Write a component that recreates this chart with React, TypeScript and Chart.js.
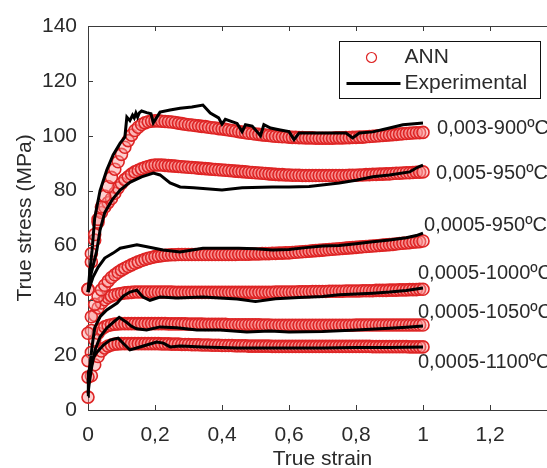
import React, { useEffect, useRef } from 'react';
import { Chart, registerables } from 'chart.js';

Chart.register(...registerables);

const FONT = 'Liberation Sans, Arial, Helvetica, sans-serif';
const TEXT_COLOR = '#2a2a2a';
const AXIS_COLOR = '#3a3a3a';

// ---- ANN predictions (sampled every 0.01 of strain) ----
const STRAIN = [
  0, 0.01, 0.02, 0.03, 0.04, 0.05, 0.06, 0.07, 0.08, 0.09,
  0.1, 0.11, 0.12, 0.13, 0.14, 0.15, 0.16, 0.17, 0.18, 0.19,
  0.2, 0.21, 0.22, 0.23, 0.24, 0.25, 0.26, 0.27, 0.28, 0.29,
  0.3, 0.31, 0.32, 0.33, 0.34, 0.35, 0.36, 0.37, 0.38, 0.39,
  0.4, 0.41, 0.42, 0.43, 0.44, 0.45, 0.46, 0.47, 0.48, 0.49,
  0.5, 0.51, 0.52, 0.53, 0.54, 0.55, 0.56, 0.57, 0.58, 0.59,
  0.6, 0.61, 0.62, 0.63, 0.64, 0.65, 0.66, 0.67, 0.68, 0.69,
  0.7, 0.71, 0.72, 0.73, 0.74, 0.75, 0.76, 0.77, 0.78, 0.79,
  0.8, 0.81, 0.82, 0.83, 0.84, 0.85, 0.86, 0.87, 0.88, 0.89,
  0.9, 0.91, 0.92, 0.93, 0.94, 0.95, 0.96, 0.97, 0.98, 0.99,
  1,
];

const ANN_003_900 = [
  44, 57, 64, 69.5, 74, 78, 81.5, 84.8, 87.8, 90.5,
  93.2, 95.8, 98.2, 100.2, 101.9, 103.1, 104.1, 104.7, 105.1, 105.3,
  105.4, 105.4, 105.3, 105.2, 105.1, 105, 104.8, 104.6, 104.4, 104.2,
  104, 103.9, 103.7, 103.6, 103.4, 103.3, 103.1, 102.9, 102.8, 102.6,
  102.5, 102.3, 102.1, 101.9, 101.7, 101.5, 101.3, 101.1, 100.9, 100.8,
  100.6, 100.5, 100.3, 100.2, 100.1, 99.9, 99.8, 99.7, 99.6, 99.6,
  99.5, 99.4, 99.4, 99.3, 99.3, 99.2, 99.2, 99.2, 99.1, 99.1,
  99.1, 99.1, 99.1, 99.1, 99.2, 99.2, 99.2, 99.3, 99.3, 99.4,
  99.4, 99.5, 99.5, 99.6, 99.7, 99.8, 99.9, 100, 100.1, 100.2,
  100.3, 100.4, 100.5, 100.6, 100.7, 100.8, 100.9, 101, 101.1, 101.1,
  101.2,
];

const ANN_005_950 = [
  44, 54, 62, 68.5, 72, 74, 75.6, 77.1, 79, 81,
  82.6, 84, 85, 86, 86.8, 87.4, 87.9, 88.4, 88.8, 89.1,
  89.3, 89.3, 89.3, 89.2, 89.1, 89, 88.9, 88.8, 88.7, 88.6,
  88.5, 88.4, 88.3, 88.2, 88.1, 88, 87.9, 87.8, 87.7, 87.6,
  87.5, 87.4, 87.3, 87.2, 87.1, 87, 86.9, 86.8, 86.7, 86.6,
  86.5, 86.4, 86.3, 86.2, 86.1, 86, 85.9, 85.8, 85.8, 85.7,
  85.7, 85.6, 85.6, 85.6, 85.5, 85.5, 85.5, 85.5, 85.5, 85.5,
  85.5, 85.5, 85.5, 85.5, 85.5, 85.5, 85.5, 85.5, 85.6, 85.6,
  85.6, 85.7, 85.7, 85.8, 85.8, 85.9, 85.9, 86, 86, 86.1,
  86.1, 86.2, 86.3, 86.3, 86.4, 86.5, 86.5, 86.6, 86.7, 86.7,
  86.8,
];

const ANN_0005_950 = [
  28, 34, 38.5, 41.5, 43.8, 45.5, 47, 48.3, 49.3, 50.2,
  51, 51.7, 52.3, 52.9, 53.5, 54, 54.5, 54.9, 55.3, 55.6,
  55.9, 56.1, 56.3, 56.4, 56.5, 56.6, 56.6, 56.7, 56.7, 56.7,
  56.7, 56.7, 56.7, 56.7, 56.7, 56.7, 56.7, 56.7, 56.7, 56.7,
  56.7, 56.7, 56.7, 56.7, 56.7, 56.8, 56.8, 56.8, 56.8, 56.9,
  56.9, 56.9, 57, 57, 57, 57.1, 57.1, 57.2, 57.2, 57.3,
  57.3, 57.4, 57.5, 57.6, 57.7, 57.8, 57.9, 58, 58.1, 58.2,
  58.3, 58.4, 58.5, 58.6, 58.7, 58.8, 58.9, 59, 59.1, 59.2,
  59.3, 59.4, 59.5, 59.6, 59.7, 59.8, 59.9, 60, 60.1, 60.2,
  60.3, 60.4, 60.5, 60.7, 60.8, 60.9, 61, 61.2, 61.3, 61.4,
  61.6,
];

const ANN_0005_1000 = [
  18, 29, 34.5, 37.2, 39, 40.2, 41, 41.6, 42, 42.3,
  42.5, 42.7, 42.8, 42.9, 43, 43, 43, 43, 43, 43,
  43, 43, 43, 43, 43, 43, 42.9, 42.9, 42.9, 42.9,
  42.9, 42.9, 42.9, 42.9, 42.9, 42.9, 42.9, 42.9, 42.9, 42.9,
  42.9, 42.9, 42.9, 42.9, 42.9, 42.9, 42.9, 42.9, 42.9, 42.9,
  42.9, 42.9, 42.9, 42.9, 42.9, 42.9, 43, 43, 43, 43,
  43, 43, 43, 43.1, 43.1, 43.1, 43.1, 43.2, 43.2, 43.2,
  43.2, 43.2, 43.3, 43.3, 43.3, 43.3, 43.3, 43.4, 43.4, 43.4,
  43.4, 43.4, 43.5, 43.5, 43.5, 43.5, 43.6, 43.6, 43.6, 43.6,
  43.7, 43.7, 43.7, 43.8, 43.8, 43.8, 43.9, 43.9, 43.9, 44,
  44,
];

const ANN_0005_1050 = [
  12, 21, 25.5, 28, 29.5, 30.3, 30.8, 31.1, 31.3, 31.4,
  31.5, 31.5, 31.5, 31.5, 31.5, 31.5, 31.5, 31.5, 31.5, 31.5,
  31.5, 31.5, 31.5, 31.5, 31.4, 31.4, 31.4, 31.4, 31.4, 31.4,
  31.3, 31.3, 31.3, 31.3, 31.3, 31.2, 31.2, 31.2, 31.2, 31.2,
  31.2, 31.2, 31.1, 31.1, 31.1, 31.1, 31.1, 31.1, 31.1, 31.1,
  31.1, 31.1, 31, 31, 31, 30.9, 30.9, 30.9, 30.9, 30.9,
  30.9, 30.9, 30.9, 30.9, 30.9, 30.9, 30.9, 30.9, 30.9, 30.9,
  30.9, 30.9, 30.9, 30.9, 30.9, 30.9, 30.9, 30.9, 30.9, 30.9,
  31, 31, 31, 31, 31, 31, 31, 31, 31, 31,
  31, 31, 31, 31, 31, 31, 31, 31, 31, 31,
  31,
];

const ANN_0005_1100 = [
  4.7, 12.5, 16.5, 19.5, 21.5, 22.6, 23.3, 23.7, 24, 24.1,
  24.2, 24.2, 24.2, 24.2, 24.2, 24.2, 24.2, 24.2, 24.2, 24.2,
  24.2, 24.2, 24.1, 24.1, 24.1, 24, 24, 24, 23.9, 23.9,
  23.9, 23.8, 23.8, 23.8, 23.7, 23.7, 23.7, 23.6, 23.6, 23.6,
  23.5, 23.5, 23.5, 23.5, 23.4, 23.4, 23.4, 23.4, 23.3, 23.3,
  23.3, 23.3, 23.3, 23.3, 23.3, 23.2, 23.2, 23.2, 23.2, 23.2,
  23.2, 23.2, 23.2, 23.2, 23.2, 23.2, 23.2, 23.2, 23.2, 23.2,
  23.2, 23.2, 23.2, 23.2, 23.2, 23.2, 23.2, 23.2, 23.2, 23.2,
  23.2, 23.2, 23.2, 23.2, 23.2, 23.1, 23.1, 23.1, 23.1, 23.1,
  23.1, 23.1, 23.1, 23.1, 23.1, 23.1, 23, 23, 23, 23,
  23,
];

// ---- Experimental curves ----
const EXP_003_900_X = [0, 0.005, 0.012, 0.02, 0.036, 0.056, 0.075, 0.096, 0.11, 0.116, 0.125, 0.133, 0.138, 0.143, 0.148, 0.153, 0.16, 0.175, 0.188, 0.195, 0.215, 0.245, 0.275, 0.31, 0.343, 0.365, 0.39, 0.4, 0.41, 0.445, 0.46, 0.47, 0.49, 0.515, 0.525, 0.545, 0.57, 0.6, 0.615, 0.63, 0.7, 0.77, 0.79, 0.81, 0.85, 0.9, 0.94, 1];
const EXP_003_900_Y = [43, 50, 58, 70, 80, 87.5, 93, 97.3, 99.5, 106.8, 105.5, 107.5, 106.5, 108.3, 106.8, 108.3, 109, 108.4, 108, 104.7, 108.6, 109.4, 110, 110.5, 111.2, 108.3, 106.5, 104.2, 106, 104.5, 101.5, 104, 103.5, 100, 104, 102.8, 102.2, 101.5, 98.6, 101, 101, 101, 99.2, 101, 101.4, 102.8, 104, 104.6];

const EXP_005_950_X = [0, 0.01, 0.026, 0.036, 0.05, 0.072, 0.096, 0.125, 0.16, 0.195, 0.215, 0.245, 0.275, 0.315, 0.4, 0.46, 0.55, 0.6, 0.66, 0.75, 0.8, 0.85, 0.9, 0.96, 0.985, 1];
const EXP_005_950_Y = [43, 50, 58, 65.6, 72, 76.6, 80.2, 83, 85, 86.4, 85.7, 82.8, 81.3, 81, 80.2, 81, 81.3, 81.3, 81.5, 82.8, 83.8, 85, 85.7, 86.8, 88.6, 89.3];

const EXP_0005_950_X = [0, 0.015, 0.03, 0.05, 0.075, 0.096, 0.146, 0.176, 0.224, 0.275, 0.343, 0.4, 0.45, 0.5, 0.55, 0.6, 0.65, 0.7, 0.75, 0.8, 0.85, 0.9, 0.95, 0.98, 1];
const EXP_0005_950_Y = [43, 48.5, 52, 55.4, 57.2, 59, 60.2, 59.5, 58.3, 57.6, 59, 59, 59, 58.8, 58.3, 58.5, 59.2, 59.8, 60, 60.6, 61.3, 62, 62.8, 63.6, 64.5];

const EXP_0005_1000_X = [0, 0.012, 0.02, 0.036, 0.056, 0.087, 0.105, 0.125, 0.146, 0.164, 0.185, 0.215, 0.265, 0.343, 0.445, 0.5, 0.56, 0.63, 0.7, 0.75, 0.85, 0.9, 0.95, 1];
const EXP_0005_1000_Y = [10, 23, 30, 34, 36.5, 39, 41.5, 43, 43.7, 41.2, 40, 41.2, 40.8, 41.2, 40.5, 39.6, 40.6, 41, 41.4, 42, 42.6, 43, 43.6, 44.5];

const EXP_0005_1050_X = [0, 0.004, 0.011, 0.021, 0.036, 0.056, 0.076, 0.093, 0.115, 0.13, 0.145, 0.175, 0.215, 0.265, 0.325, 0.394, 0.474, 0.543, 0.6, 0.7, 0.8, 0.9, 0.95, 1];
const EXP_0005_1050_Y = [6, 10, 15.7, 21.9, 26.6, 29.9, 32, 33.8, 32, 30.5, 29.6, 29.2, 30.3, 30, 29.2, 29.2, 28.4, 28.8, 28.4, 28.6, 29.2, 29.8, 30.2, 30.6];

const EXP_0005_1100_X = [0, 0.001, 0.011, 0.026, 0.046, 0.066, 0.09, 0.11, 0.125, 0.145, 0.175, 0.205, 0.225, 0.245, 0.275, 0.343, 0.445, 0.5, 0.6, 0.7, 0.8, 0.9, 1];
const EXP_0005_1100_Y = [5, 13.5, 18.2, 21, 23.7, 25.5, 26.2, 23.7, 21.9, 22.6, 23.7, 24.8, 24.4, 23, 23.3, 23, 22.6, 22.6, 22.6, 22.6, 22.8, 22.8, 23];

// ---- Curve labels (anchored in data coordinates) ----
const CURVE_LABELS = ['0,003-900ºC', '0,005-950ºC', '0,0005-950ºC', '0,0005-1000ºC', '0,0005-1050ºC', '0,0005-1100ºC'];
const CURVE_LABEL_X = [1.042, 1.039, 1.003, 0.985, 0.985, 0.985];
const CURVE_LABEL_Y = [102.8, 86.4, 67.4, 49.9, 35.7, 17.5];

const LEGEND_LABELS = ['ANN', 'Experimental'];

const X_MIN = 0;
const X_MAX = 1.4;
const X_STEP = 0.2;
const Y_MIN = 0;
const Y_MAX = 140;
const Y_STEP = 20;

const ANN_SERIES = [ANN_003_900, ANN_005_950, ANN_0005_950, ANN_0005_1000, ANN_0005_1050, ANN_0005_1100];
const EXP_SERIES = [
  [EXP_003_900_X, EXP_003_900_Y],
  [EXP_005_950_X, EXP_005_950_Y],
  [EXP_0005_950_X, EXP_0005_950_Y],
  [EXP_0005_1000_X, EXP_0005_1000_Y],
  [EXP_0005_1050_X, EXP_0005_1050_Y],
  [EXP_0005_1100_X, EXP_0005_1100_Y],
];

const ANN_EDGE = 'rgb(222, 36, 36)';
const ANN_FILL = 'rgba(250, 150, 150, 0.45)';

const toPoints = (xs: number[], ys: number[]) => xs.map((x, i) => ({ x, y: ys[i] }));

const fmtTick = (v: number) => {
  const r = Math.round(v * 10) / 10;
  if (r > 1.3) return '';
  return String(r).replace('.', ',');
};

const decorPlugin = {
  id: 'decor',
  afterDatasetsDraw(chart: any) {
    const { ctx, chartArea, scales } = chart;
    const { left, top, bottom, right } = chartArea;
    const x = scales.x;
    const y = scales.y;
    ctx.save();
    ctx.strokeStyle = AXIS_COLOR;
    ctx.lineWidth = 1;
    ctx.beginPath();
    ctx.moveTo(left, Math.round(top) + 0.5);
    ctx.lineTo(right, Math.round(top) + 0.5);
    x.ticks.forEach((t: any) => {
      const px = Math.round(x.getPixelForValue(t.value)) + 0.5;
      ctx.moveTo(px, bottom);
      ctx.lineTo(px, bottom - 5);
      ctx.moveTo(px, top);
      ctx.lineTo(px, top + 5);
    });
    y.ticks.forEach((t: any) => {
      const py = Math.round(y.getPixelForValue(t.value)) + 0.5;
      ctx.moveTo(left, py);
      ctx.lineTo(left + 5, py);
    });
    ctx.stroke();
    ctx.restore();
  },
  afterDraw(chart: any) {
    const { ctx, chartArea, scales } = chart;
    const x = scales.x;
    const y = scales.y;
    ctx.save();
    // curve labels
    ctx.font = `20px ${FONT}`;
    ctx.fillStyle = TEXT_COLOR;
    ctx.textAlign = 'left';
    ctx.textBaseline = 'middle';
    CURVE_LABELS.forEach((txt, i) => {
      ctx.fillText(txt, x.getPixelForValue(CURVE_LABEL_X[i]), y.getPixelForValue(CURVE_LABEL_Y[i]));
    });
    // legend box (inside the axes, top right)
    const lx = chartArea.left + 251.5;
    const ly = chartArea.top + 15.5;
    const lw = 201;
    const lh = 57;
    ctx.fillStyle = '#ffffff';
    ctx.fillRect(lx, ly, lw, lh);
    ctx.strokeStyle = '#111';
    ctx.lineWidth = 1;
    ctx.strokeRect(lx, ly, lw, lh);
    // ANN marker
    ctx.beginPath();
    ctx.arc(lx + 32, ly + 16, 5, 0, Math.PI * 2);
    ctx.strokeStyle = ANN_EDGE;
    ctx.lineWidth = 1.2;
    ctx.stroke();
    // Experimental line
    ctx.beginPath();
    ctx.moveTo(lx + 7, ly + 42);
    ctx.lineTo(lx + 61, ly + 42);
    ctx.strokeStyle = '#000';
    ctx.lineWidth = 3;
    ctx.stroke();
    ctx.font = `21px ${FONT}`;
    ctx.fillStyle = TEXT_COLOR;
    ctx.textBaseline = 'middle';
    ctx.fillText(LEGEND_LABELS[0], lx + 65, ly + 16);
    ctx.fillText(LEGEND_LABELS[1], lx + 65, ly + 42);
    ctx.restore();
  },
};

export default function App() {
  const canvasRef = useRef<HTMLCanvasElement | null>(null);

  useEffect(() => {
    if (!canvasRef.current) return;
    const expSets = EXP_SERIES.map(([xs, ys]) => ({
      data: toPoints(xs, ys),
      showLine: true,
      borderColor: '#000000',
      borderWidth: 3,
      pointRadius: 0,
      pointHoverRadius: 0,
      tension: 0,
      fill: false,
      order: 0,
      clip: false,
    }));
    const annSets = ANN_SERIES.map((ys) => ({
      data: toPoints(STRAIN, ys),
      showLine: false,
      pointStyle: 'circle',
      pointRadius: 6,
      pointBorderWidth: 1.6,
      pointBorderColor: ANN_EDGE,
      pointBackgroundColor: ANN_FILL,
      borderColor: ANN_EDGE,
      backgroundColor: ANN_FILL,
      order: 1,
      clip: false,
    }));

    const chart = new Chart(canvasRef.current, {
      type: 'scatter',
      data: { datasets: [...expSets, ...annSets] as any },
      options: {
        animation: false,
        responsive: false,
        devicePixelRatio: 1,
        layout: { padding: { top: 26, right: 13, left: 0, bottom: 0 } },
        plugins: { legend: { display: false }, tooltip: { enabled: false } },
        events: [],
        scales: {
          x: {
            type: 'linear',
            min: X_MIN,
            max: X_MAX,
            grid: { display: false, drawTicks: false },
            border: { display: true, color: AXIS_COLOR, width: 1 },
            ticks: {
              stepSize: X_STEP,
              autoSkip: false,
              maxRotation: 0,
              padding: 13,
              color: TEXT_COLOR,
              font: { family: FONT, size: 21 },
              callback: (v: any) => fmtTick(Number(v)),
            },
            title: {
              display: true,
              text: 'True strain',
              color: TEXT_COLOR,
              font: { family: FONT, size: 21 },
              padding: { top: 0, bottom: -4 },
            },
            afterFit: (s: any) => {
              s.height = 58;
            },
          },
          y: {
            type: 'linear',
            min: Y_MIN,
            max: Y_MAX,
            grid: { display: false, drawTicks: false },
            border: { display: true, color: AXIS_COLOR, width: 1 },
            ticks: {
              stepSize: Y_STEP,
              padding: 11,
              color: TEXT_COLOR,
              font: { family: FONT, size: 21 },
            },
            title: {
              display: true,
              text: 'True stress (MPa)',
              color: TEXT_COLOR,
              font: { family: FONT, size: 21 },
              padding: { top: 13, bottom: 0 },
            },
            afterFit: (s: any) => {
              s.width = 88;
            },
          },
        },
      } as any,
      plugins: [decorPlugin],
    });
    return () => chart.destroy();
  }, []);

  return (
    <div
      style={{
        position: 'fixed',
        left: 0,
        top: 0,
        width: 547,
        height: 468,
        overflow: 'hidden',
        background: '#ffffff',
      }}
    >
      <canvas ref={canvasRef} width={570} height={468} style={{ display: 'block', width: 570, height: 468 }} />
    </div>
  );
}
